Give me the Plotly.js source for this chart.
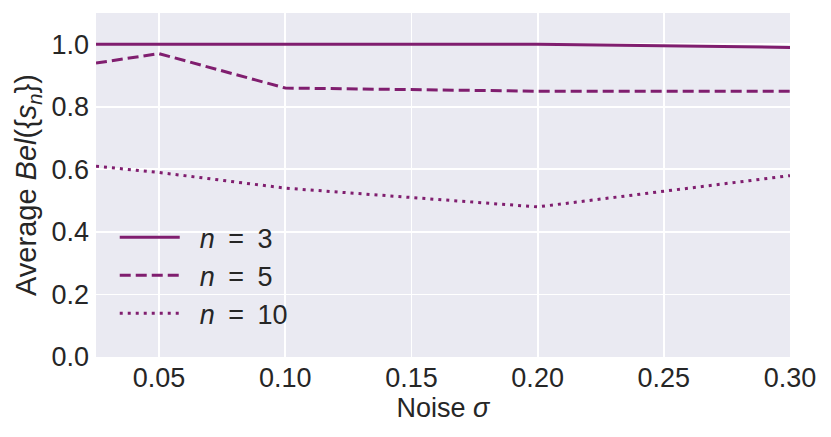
<!DOCTYPE html>
<html>
<head>
<meta charset="utf-8">
<script src="https://cdn.plot.ly/plotly-3.0.1.min.js"></script>
<style>
  html, body { margin: 0; padding: 0; background: #ffffff; }
  #chart { width: 831px; height: 437px; }
</style>
</head>
<body>
<div id="chart"></div>
<script>
// Noise levels on the x axis
const noise = [0.025, 0.05, 0.10, 0.20, 0.30];

// Average belief per number of samples n
const belN3  = [1.00, 1.00, 1.00, 1.00, 0.99];
const belN5  = [0.94, 0.97, 0.86, 0.85, 0.85];
const belN10 = [0.61, 0.59, 0.54, 0.48, 0.58];

const seriesNames = ['n = 3', 'n = 5', 'n = 10'];
const xTicks = [0.05, 0.10, 0.15, 0.20, 0.25, 0.30];
const yTicks = [0.0, 0.2, 0.4, 0.6, 0.8, 1.0];

const purple = '#801e6f';
const fontFam = '"Liberation Sans", Arial, sans-serif';

// matplotlib-like mathtext label: italic n, wide spacing round "="
function legendLabel(s) {
  const parts = s.split(' = ');
  return '\u00a0\u00a0<i>' + parts[0] + '</i>\u2002=\u2002' + parts[1];
}

function makeTrace(y, name, dash) {
  return {
    x: noise,
    y: y,
    type: 'scatter',
    mode: 'lines',
    name: legendLabel(name),
    line: { color: purple, width: 3, dash: dash },
    hoverinfo: 'skip'
  };
}

const traces = [
  makeTrace(belN3, seriesNames[0], 'solid'),
  makeTrace(belN5, seriesNames[1], '11px,5px'),
  makeTrace(belN10, seriesNames[2], '3px,5px')
];

const layout = {
  width: 831,
  height: 437,
  paper_bgcolor: '#ffffff',
  plot_bgcolor: '#eaeaf2',
  margin: { l: 96, r: 41, t: 13, b: 80 },
  font: { family: fontFam, color: '#262626', size: 27 },
  xaxis: {
    range: [0.025, 0.30],
    tickvals: xTicks,
    ticktext: xTicks.map(v => v.toFixed(2)),
    showgrid: true,
    gridcolor: '#ffffff',
    gridwidth: 1.8,
    zeroline: false,
    showline: false,
    ticks: '',
    ticklabelstandoff: 2,
    tickfont: { size: 27 },
    title: { text: 'Noise <i>σ</i>', font: { size: 27 }, standoff: 5 }
  },
  yaxis: {
    range: [0, 1.1],
    tickvals: yTicks,
    ticktext: yTicks.map(v => v.toFixed(1)),
    showgrid: true,
    gridcolor: '#ffffff',
    gridwidth: 1.8,
    zeroline: false,
    showline: false,
    ticks: '',
    ticklabelstandoff: 6,
    tickfont: { size: 27 },
    title: { text: 'Average <i>Bel</i>({<i>s</i><sub><i>n</i></sub>})', font: { size: 29 }, standoff: 6 }
  },
  showlegend: true,
  legend: {
    x: 0.027,
    y: 0.055,
    xanchor: 'left',
    yanchor: 'bottom',
    bgcolor: 'rgba(0,0,0,0)',
    borderwidth: 0,
    itemwidth: 60,
    tracegroupgap: 0,
    font: { size: 27, color: '#262626' }
  }
};

Plotly.newPlot('chart', traces, layout, { displayModeBar: false, staticPlot: true });
</script>
</body>
</html>
